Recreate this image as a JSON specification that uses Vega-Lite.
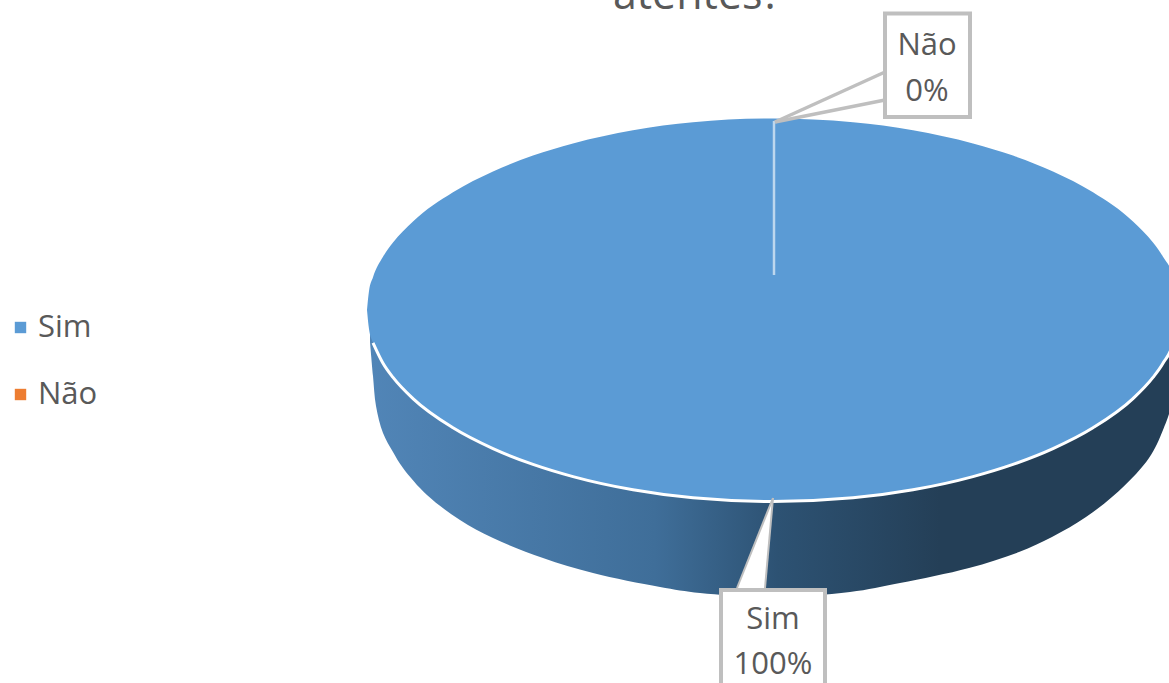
{
"$schema":"https://vega.github.io/schema/vega-lite/v6.json",
"width":1169,"height":683,"padding":0,"autosize":{"type":"none"},"background":"white",
"config":{"view":{"stroke":null},"text":{"font":"Open Sans"}},
"datasets":{
"top":[
{"x":-203,"y":0,"y2":0,"slice":"Sim"},{"x":-202,"y":9.5,"y2":-9.5,"slice":"Sim"},{"x":-200,"y":16.4,"y2":-16.4,"slice":"Sim"},{"x":-195,"y":26.6,"y2":-26.6,"slice":"Sim"},{"x":-190,"y":33.7,"y2":-33.7,"slice":"Sim"},{"x":-180,"y":44.3,"y2":-44.3,"slice":"Sim"},{"x":-160,"y":58.9,"y2":-58.9,"slice":"Sim"},{"x":-140,"y":69.3,"y2":-69.3,"slice":"Sim"},{"x":-120,"y":77.2,"y2":-77.2,"slice":"Sim"},{"x":-100,"y":83.3,"y2":-83.3,"slice":"Sim"},{"x":-70,"y":89.9,"y2":-89.9,"slice":"Sim"},{"x":-40,"y":93.9,"y2":-93.9,"slice":"Sim"},{"x":0,"y":95.75,"y2":-95.75,"slice":"Sim"},{"x":40,"y":93.9,"y2":-93.9,"slice":"Sim"},{"x":70,"y":89.9,"y2":-89.9,"slice":"Sim"},{"x":100,"y":83.3,"y2":-83.3,"slice":"Sim"},{"x":120,"y":77.2,"y2":-77.2,"slice":"Sim"},{"x":140,"y":69.3,"y2":-69.3,"slice":"Sim"},{"x":160,"y":58.9,"y2":-58.9,"slice":"Sim"},{"x":180,"y":44.3,"y2":-44.3,"slice":"Sim"},{"x":190,"y":33.7,"y2":-33.7,"slice":"Sim"},{"x":195,"y":26.6,"y2":-26.6,"slice":"Sim"},{"x":200,"y":16.4,"y2":-16.4,"slice":"Sim"},{"x":203,"y":0,"y2":0,"slice":"Sim"}
],
"side":[
{"x":-201.5,"y":-16,"y2":0},{"x":-200,"y":-33,"y2":0},{"x":-198.5,"y":-48,"y2":0},{"x":-195,"y":-61.5,"y2":0},{"x":-190,"y":-71,"y2":0},{"x":-185,"y":-79,"y2":0},{"x":-173,"y":-92.5,"y2":0},{"x":-156.5,"y":-105,"y2":0},{"x":-140,"y":-114,"y2":0},{"x":-115,"y":-124,"y2":0},{"x":-90,"y":-131.5,"y2":0},{"x":-56.5,"y":-138.5,"y2":0},{"x":-36.5,"y":-141.5,"y2":0},{"x":0,"y":-143.5,"y2":0},{"x":38.5,"y":-141,"y2":0},{"x":63.5,"y":-136.5,"y2":0},{"x":98,"y":-129,"y2":0},{"x":123,"y":-121,"y2":0},{"x":139.5,"y":-113.5,"y2":0},{"x":156.5,"y":-103.5,"y2":0},{"x":169.5,"y":-93.5,"y2":0},{"x":181.5,"y":-82,"y2":0},{"x":188,"y":-74,"y2":0},{"x":192,"y":-67,"y2":0},{"x":195,"y":-60,"y2":0},{"x":198,"y":-52,"y2":0},{"x":206,"y":-20,"y2":0}
],
"boxes":[{"x":56,"x2":98.5,"y":148.25,"y2":96.5},{"x":-26,"x2":26,"y":-140,"y2":-200}],
"leaderTop":[{"x":1,"y":94,"y2":94},{"x":56,"y":119,"y2":105}],
"leaderBottom":[{"y":-94,"x":0,"x2":0},{"y":-139,"x":-18,"x2":-4}],
"edges":[{"x":1,"y":94,"x2":56,"y2":119},{"x":1,"y":94,"x2":56,"y2":105}],
"edgesBottom":[{"x":0,"y":-94,"x2":-18,"y2":-139},{"x":0,"y":-94,"x2":-4,"y2":-139}],
"labels":[{"x":77,"y":132,"t":"Não"},{"x":77,"y":109,"t":"0%"},{"x":0,"y":-155,"t":"Sim"},{"x":0,"y":-177.5,"t":"100%"}],
"title":[{"x":-38,"y":150.5,"t":"atentes?"}],
"divider":[{"x":0.5,"y":94.5,"y2":17.5}]
},
"encoding":{
"x":{"field":"x","type":"quantitative","axis":null,"scale":{"domain":[-386.5,198],"nice":false,"zero":false}},
"y":{"field":"y","type":"quantitative","axis":null,"scale":{"domain":[-186.5,155],"nice":false,"zero":false}}
},
"layer":[
{"data":{"name":"side"},
 "mark":{"type":"area","interpolate":"catmull-rom","color":{"gradient":"linear","x1":0,"y1":0,"x2":1,"y2":0,"stops":[{"offset":0,"color":"#5185B7"},{"offset":0.35,"color":"#3F6E99"},{"offset":0.5,"color":"#2D5273"},{"offset":0.7,"color":"#243F57"},{"offset":1,"color":"#243F57"}]}},
 "encoding":{"y2":{"field":"y2"}}},
{"data":{"name":"top"},
 "mark":{"type":"area","interpolate":"monotone"},
 "encoding":{"y2":{"field":"y2"},
  "color":{"field":"slice","type":"nominal","scale":{"domain":["Sim","Não"],"range":["#5B9BD5","#ED7D31"]},
   "legend":{"title":null,"orient":"none","legendX":5,"legendY":312,"symbolType":"square","symbolSize":130,"symbolStrokeWidth":0,"symbolOpacity":1,"labelFont":"Open Sans","labelFontSize":31,"labelColor":"#595959","labelOffset":2,"rowPadding":35,"labelLimit":200}}}},
{"data":{"name":"top"},"transform":[{"filter":"datum.x>=-200"}],
 "mark":{"type":"line","interpolate":"monotone","color":"white","strokeWidth":3},
 "encoding":{"y":{"field":"y2","type":"quantitative"}}},
{"data":{"name":"divider"},"mark":{"type":"rule","color":"#BDD7EE","strokeWidth":2.5},"encoding":{"y2":{"field":"y2"}}},
{"data":{"name":"leaderTop"},"mark":{"type":"area","color":"white"},"encoding":{"y2":{"field":"y2"}}},
{"data":{"name":"leaderBottom"},"mark":{"type":"area","color":"white","orient":"horizontal"},"encoding":{"x2":{"field":"x2"}}},
{"data":{"name":"edges"},"mark":{"type":"rule","color":"#BFBFBF","strokeWidth":3.5},"encoding":{"x2":{"field":"x2"},"y2":{"field":"y2"}}},
{"data":{"name":"edgesBottom"},"mark":{"type":"rule","color":"#BFBFBF","strokeWidth":2},"encoding":{"x2":{"field":"x2"},"y2":{"field":"y2"}}},
{"data":{"name":"boxes"},"mark":{"type":"rect","fill":"white","stroke":"#BFBFBF","strokeWidth":4},"encoding":{"x2":{"field":"x2"},"y2":{"field":"y2"}}},
{"data":{"name":"labels"},"mark":{"type":"text","font":"Open Sans","fontSize":31,"color":"#595959","align":"center","baseline":"middle"},"encoding":{"text":{"field":"t"}}},
{"data":{"name":"title"},"mark":{"type":"text","font":"Open Sans","fontSize":43,"color":"#595959","align":"center","baseline":"alphabetic"},"encoding":{"text":{"field":"t"}}}
]
}
